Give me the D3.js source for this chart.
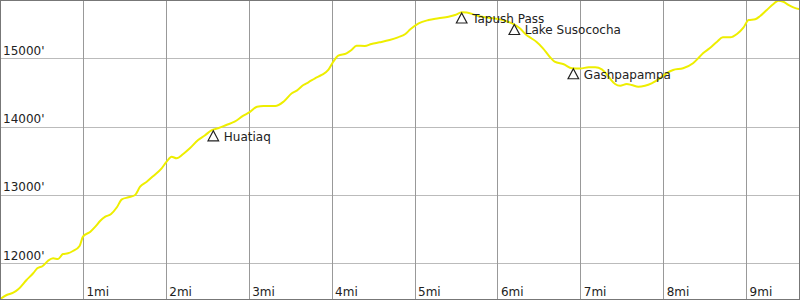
<!DOCTYPE html>
<html><head><meta charset="utf-8">
<script src="https://cdn.jsdelivr.net/npm/d3@7/dist/d3.min.js"></script>
<style>body{margin:0;background:#fff}svg{display:block;font-family:"DejaVu Sans",sans-serif}</style>
</head><body>
<svg id="c" width="800" height="300"></svg>
<script>
const miles = [0.0,0.08,0.16,0.22,0.32,0.40,0.45,0.515,0.58,0.64,0.70,0.76,0.82,0.88,0.96,1.00,1.09,1.15,1.21,1.27,1.34,1.41,1.47,1.55,1.63,1.69,1.77,1.85,1.95,2.01,2.07,2.13,2.21,2.29,2.39,2.47,2.55,2.63,2.73,2.83,2.93,3.02,3.10,3.18,3.32,3.42,3.52,3.58,3.66,3.72,3.80,3.88,3.96,4.02,4.08,4.18,4.24,4.30,4.40,4.48,4.58,4.70,4.80,4.89,4.95,5.05,5.17,5.29,5.41,5.49,5.57,5.63,5.73,5.85,5.97,6.09,6.19,6.27,6.35,6.41,6.47,6.55,6.63,6.69,6.80,6.90,7.00,7.10,7.18,7.26,7.34,7.42,7.48,7.56,7.62,7.70,7.78,7.86,7.96,8.04,8.12,8.24,8.36,8.44,8.48,8.56,8.65,8.72,8.81,8.89,8.97,9.03,9.11,9.17,9.25,9.33,9.39,9.45,9.51,9.57,9.65];
const elevation = [11475,11536,11570,11620,11756,11854,11927,11961,12038,12073,12063,12136,12146,12180,12253,12389,12462,12536,12623,12682,12721,12820,12937,12966,13000,13121,13194,13278,13390,13487,13560,13537,13600,13683,13804,13870,13946,13976,14024,14072,14156,14219,14292,14302,14302,14365,14488,14526,14609,14649,14707,14756,14829,14950,15038,15073,15121,15184,15180,15209,15234,15268,15307,15356,15424,15512,15560,15585,15609,15634,15673,15670,15634,15600,15582,15550,15502,15439,15341,15293,15243,15146,15023,14950,14912,14854,14851,14868,14868,14839,14731,14624,14599,14624,14609,14584,14599,14634,14707,14780,14829,14854,14927,15023,15073,15146,15243,15307,15307,15356,15454,15560,15571,15619,15707,15795,15843,15828,15780,15746,15717];
const xTicks = [1,2,3,4,5,6,7,8,9];
const xTickLabels = ["1mi","2mi","3mi","4mi","5mi","6mi","7mi","8mi","9mi"];
const yTicks = [12000,13000,14000,15000];
const yTickLabels = ["12000'","13000'","14000'","15000'"];
const wpNames = ["Huatiaq","Tapush Pass","Lake Susococha","Gashpapampa"];
const wpMiles = [2.573,5.569,6.204,6.916];
const wpElev = [13946,15670,15502,14854];

const W = 800, H = 300;
const svg = d3.select("#c");
const x = d3.scaleLinear().domain([0, 800/82.9]).range([0, W]);
const y = d3.scaleLinear().domain([11463, 15853]).range([H, 0]);

// horizontal grid
svg.append("g").selectAll("line").data(yTicks).join("line")
  .attr("x1",0).attr("x2",W)
  .attr("y1",d=>Math.round(y(d))+0.5).attr("y2",d=>Math.round(y(d))+0.5)
  .attr("stroke","#bbb").attr("stroke-width",1);
// vertical grid
svg.append("g").selectAll("line").data(xTicks).join("line")
  .attr("x1",d=>Math.round(x(d))+0.5).attr("x2",d=>Math.round(x(d))+0.5)
  .attr("y1",0).attr("y2",H)
  .attr("stroke","#999").attr("stroke-width",1);

// y labels
svg.append("g").selectAll("text").data(yTicks).join("text")
  .attr("x",3).attr("y",d=>y(d)-3.5)
  .attr("font-size",12).attr("fill","#222")
  .text((d,i)=>yTickLabels[i]);
// x labels
svg.append("g").selectAll("text").data(xTicks).join("text")
  .attr("x",d=>x(d)+3.5).attr("y",295.5)
  .attr("font-size",12).attr("fill","#222")
  .text((d,i)=>xTickLabels[i]);

// elevation line
const pts = miles.map((m,i)=>[m,elevation[i]]);
svg.append("path").datum(pts)
  .attr("d", d3.line().x(d=>x(d[0])).y(d=>y(d[1])).curve(d3.curveMonotoneX))
  .attr("fill","none").attr("stroke","#eeee00").attr("stroke-width",2);

// waypoints
const wp = svg.append("g").selectAll("g").data(wpNames).join("g")
  .attr("transform",(d,i)=>`translate(${x(wpMiles[i])},${y(wpElev[i])})`);
wp.append("path").attr("d","M0,0.5L5.3,10.5L-5.3,10.5Z")
  .attr("fill","none").attr("stroke","#222").attr("stroke-width",1.2);
wp.append("text").attr("x",10.5).attr("y",10.5)
  .attr("font-size",12).attr("fill","#222").text(d=>d);

// border
svg.append("rect").attr("x",0.5).attr("y",0.5).attr("width",W-1).attr("height",H-1)
  .attr("fill","none").attr("stroke","#777").attr("stroke-width",1);
</script>
</body></html>
